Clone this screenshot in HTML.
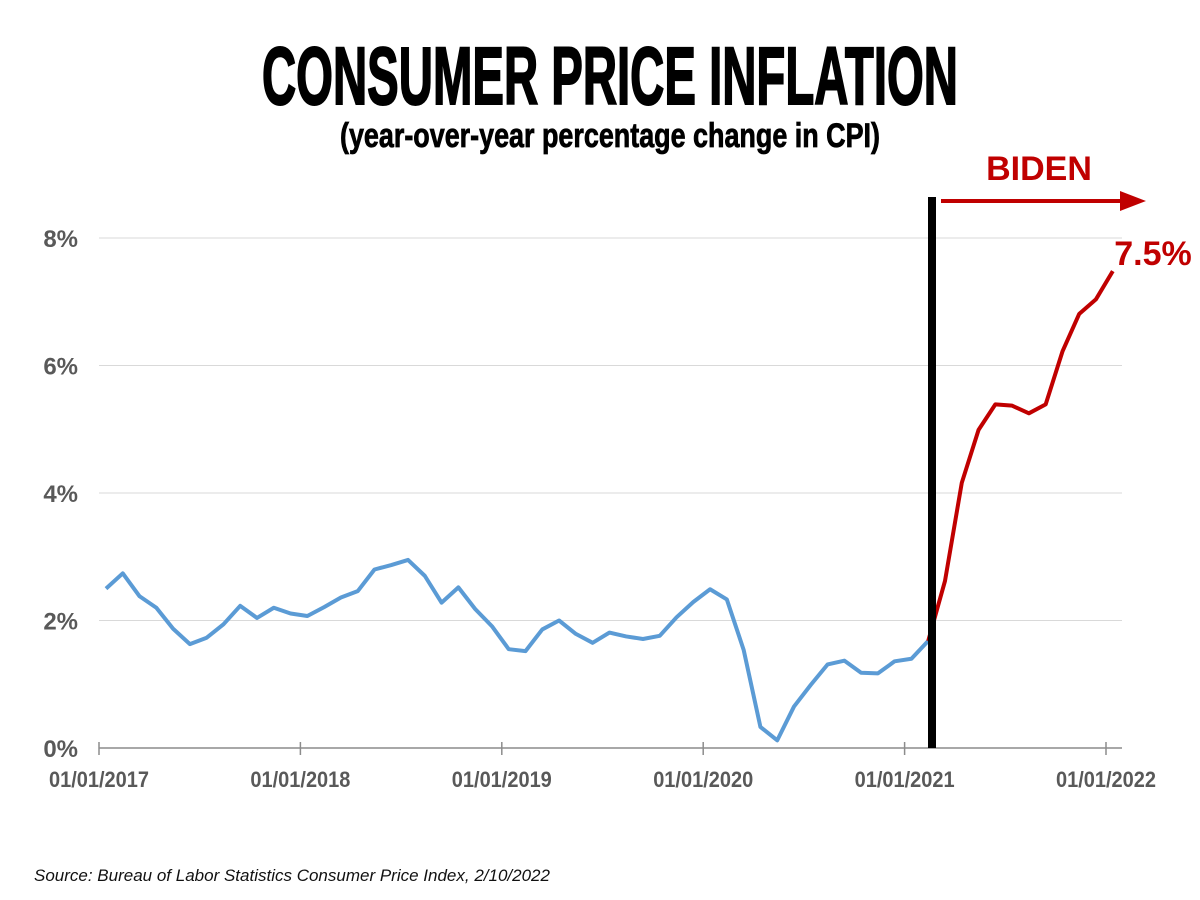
<!DOCTYPE html>
<html><head><meta charset="utf-8"><style>
body{margin:0;background:#fff;}
svg{display:block;font-family:"Liberation Sans",sans-serif;}
</style></head><body>
<svg width="1200" height="900" viewBox="0 0 1200 900">
<rect width="1200" height="900" fill="#fff"/>
<text x="610" y="104" text-anchor="middle" font-family="Liberation Sans Narrow, Liberation Sans, sans-serif" font-weight="bold" font-size="82" textLength="696" lengthAdjust="spacingAndGlyphs" stroke="#000" stroke-width="2">CONSUMER PRICE INFLATION</text>
<text x="610" y="147" text-anchor="middle" font-family="Liberation Sans Narrow, Liberation Sans, sans-serif" font-weight="bold" font-size="34" textLength="540" lengthAdjust="spacingAndGlyphs" stroke="#000" stroke-width="0.8">(year-over-year percentage change in CPI)</text>
<g id="grid"></g>
<g id="axes"></g>
<g id="series"></g>
<rect x="928" y="197" width="8" height="551" fill="#000"/>
<line x1="941" y1="201" x2="1122" y2="201" stroke="#c00000" stroke-width="4"/>
<polygon points="1120,191 1146,201 1120,211" fill="#c00000"/>
<text x="1039" y="180" text-anchor="middle" font-weight="bold" font-size="34" fill="#c00000">BIDEN</text>
<text x="1153" y="265" text-anchor="middle" font-weight="bold" font-size="34" fill="#c00000">7.5%</text>
<text x="34" y="881" font-style="italic" font-size="17" fill="#111">Source: Bureau of Labor Statistics Consumer Price Index, 2/10/2022</text>
</svg>
<script>
const yTicks=[0,2,4,6,8];
const yTickLabels=["0%","2%","4%","6%","8%"];
const xTickLabels=["01/01/2017","01/01/2018","01/01/2019","01/01/2020","01/01/2021","01/01/2022"];
const preBiden=[2.5,2.74,2.38,2.2,1.87,1.63,1.73,1.94,2.23,2.04,2.2,2.11,2.07,2.21,2.36,2.46,2.8,2.87,2.95,2.7,2.28,2.52,2.18,1.91,1.55,1.52,1.86,2.0,1.79,1.65,1.81,1.75,1.71,1.76,2.05,2.29,2.49,2.33,1.54,0.33,0.12,0.65,0.99,1.31,1.37,1.18,1.17,1.36,1.4,1.68];
const biden=[1.68,2.62,4.16,4.99,5.39,5.37,5.25,5.39,6.22,6.81,7.04,7.48];
const NS="http://www.w3.org/2000/svg";
const yPx=v=>748-v*63.75;
const xMonth=i=>106+i*16.78;
const xYear=k=>99+k*201.4;
function mk(t,a,p){const e=document.createElementNS(NS,t);for(const k in a)e.setAttribute(k,a[k]);document.getElementById(p).appendChild(e);return e;}
yTicks.forEach((v,i)=>{
 if(v>0){const g=mk('line',{x1:99,x2:1122,y1:yPx(v),y2:yPx(v),stroke:'#d9d9d9','stroke-width':1},'grid');
 
 }
 const t=mk('text',{x:78,y:yPx(v)+9,'text-anchor':'end','font-weight':'bold','font-size':24,fill:'#595959'},'axes');
 t.textContent=yTickLabels[i];
 
 
});
const ax=mk('line',{x1:99,x2:1122,y1:748,y2:748,stroke:'#8c8c8c','stroke-width':1.5},'axes');


xTickLabels.forEach((l,k)=>{
 const tk=mk('line',{x1:xYear(k),x2:xYear(k),y1:742,y2:755,stroke:'#8c8c8c','stroke-width':1.5},'axes');
 
 
 const t=mk('text',{x:xYear(k),y:787,'text-anchor':'middle','font-weight':'bold','font-size':22,fill:'#595959',textLength:100,lengthAdjust:'spacingAndGlyphs'},'axes');
 t.textContent=l;
 
 
});
const p1=mk('polyline',{points:preBiden.map((v,i)=>xMonth(i)+','+yPx(v)).join(' '),fill:'none',stroke:'#5b9bd5','stroke-width':4,'stroke-linejoin':'round'},'series');


const off=preBiden.length-1;
const p2=mk('polyline',{points:biden.map((v,i)=>xMonth(off+i)+','+yPx(v)).join(' '),fill:'none',stroke:'#c00000','stroke-width':4,'stroke-linejoin':'round'},'series');


</script>
</body></html>
